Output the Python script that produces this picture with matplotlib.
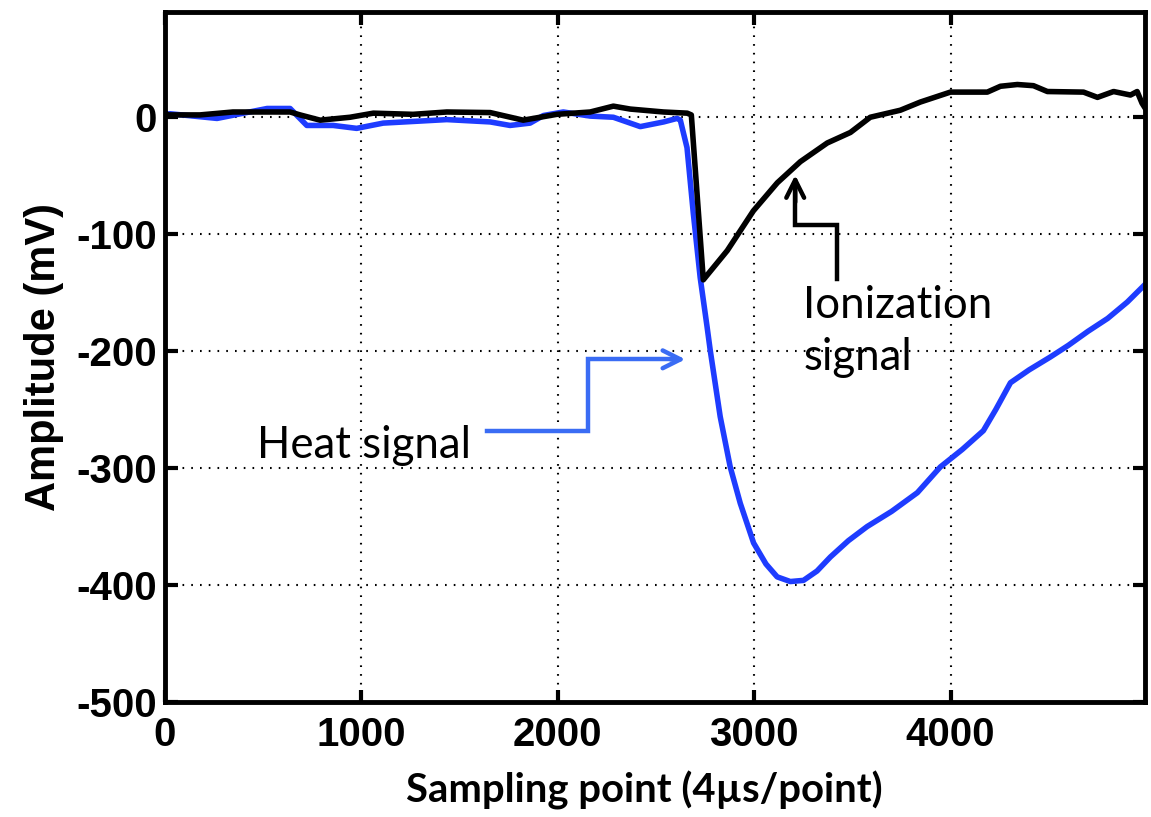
import numpy as np
import matplotlib.pyplot as plt

# 읽어낸 파형 값 (샘플 번호, mV)
ion_x = [0, 15, 178, 346, 637, 688, 790, 942, 1061, 1263, 1435, 1656, 1824,
         1995, 2165, 2283, 2369, 2539, 2659, 2680, 2741, 2863, 2996, 3118,
         3235, 3372, 3490, 3591, 3744, 3846, 3999, 4187, 4254, 4340, 4422,
         4493, 4677, 4748, 4830, 4916, 4950, 4975, 4990]
ion_y = [4, 2, 2, 4.5, 4.5, 2, -2.5, 0, 3.5, 2.5, 4.5, 4, -2.5,
         2.5, 4.5, 9.5, 7, 4.5, 3.5, 2, -139, -114, -80, -56,
         -38, -22, -13, 0, 6, 13, 21.5, 21.5, 26.5, 28, 27,
         22, 21.5, 17, 22, 19, 22, 12, 8]

heat_x = [0, 25, 265, 520, 637, 722, 856, 976, 1111, 1435, 1656, 1757, 1859,
          1927, 2028, 2165, 2283, 2420, 2539, 2607, 2624, 2658, 2690, 2725,
          2760, 2776, 2827, 2878, 2929, 2997, 3060, 3117, 3184, 3251, 3320,
          3388, 3480, 3575, 3700, 3831, 3948, 4060, 4167, 4230, 4305, 4400,
          4508, 4600, 4700, 4800, 4900, 4990]
heat_y = [2, 3, -1, 7.5, 7.5, -7, -7, -9.5, -5, -2, -4, -7, -5,
          1.5, 4.5, 1, 0, -8, -4, -1, -2.5, -26, -82, -137,
          -179, -199, -256, -299, -330, -364, -382, -393, -397, -396, -388,
          -376, -362, -350, -337, -321, -299, -284, -268, -250, -227, -216,
          -205, -195, -183, -172, -158, -143]

x_ticks = [0, 1000, 2000, 3000, 4000]
y_ticks = [0, -100, -200, -300, -400, -500]

W, H = 1151, 817
fig = plt.figure(figsize=(W / 100, H / 100), dpi=100)
ax = fig.add_axes([165 / W, 1 - 702 / H, 980 / W, 690 / H])

ax.plot(heat_x, heat_y, color='#1e3cff', lw=4, solid_joinstyle='round')
ax.plot(ion_x, ion_y, color='black', lw=4, solid_joinstyle='round')

ax.set_xlim(0, 4990)
ax.set_ylim(-500, 90)
ax.set_xticks(x_ticks)
ax.set_yticks(y_ticks)
ax.set_xticklabels([str(v) for v in x_ticks])
ax.set_yticklabels([str(v) for v in y_ticks])

for lab in ax.get_xticklabels() + ax.get_yticklabels():
    lab.set_family('Liberation Sans')
    lab.set_fontweight('bold')
    lab.set_fontsize(29)

ax.tick_params(direction='in', length=9, width=3, top=True, right=True,
               colors='black')
ax.tick_params(axis='x', pad=10)
ax.tick_params(axis='y', pad=6)
for sp in ax.spines.values():
    sp.set_linewidth(3.5)

ax.grid(True, color='black', lw=1.5, linestyle=(0, (0.8, 3.4)))
ax.set_axisbelow(True)

ax.set_ylabel("Amplitude (mV)", family='Liberation Sans', fontweight='bold',
              fontsize=30, labelpad=9)

# x축 제목 (슬라이드에서 덧붙인 글꼴)
fig.text(644 / W, 1 - 802 / H, "Sampling point (4\u00b5s/point)", family='Lato',
         fontweight='bold', fontsize=28.8, ha='center', va='baseline')

# --- 주석 화살표 ---
heat_col = '#3a6cf4'
ax.plot([1640, 2155, 2155, 2600], [-268, -268, -207, -207], color=heat_col,
        lw=3.2, solid_joinstyle='miter')
ax.annotate('', xy=(2664, -207), xytext=(2560, -207),
            arrowprops=dict(arrowstyle='->', color=heat_col, lw=3.2,
                            mutation_scale=32))
ax.text(469, -291, "Heat signal", family='Lato', fontsize=31.5, va='baseline')

ax.plot([3423, 3423, 3209, 3209], [-138, -92, -92, -60], color='black',
        lw=3.2, solid_joinstyle='miter')
ax.annotate('', xy=(3209, -47), xytext=(3209, -75),
            arrowprops=dict(arrowstyle='->', color='black', lw=3.2,
                            mutation_scale=32))
ax.text(3250, -172, "Ionization", family='Lato', fontsize=31.5, va='baseline')
ax.text(3250, -216, "signal", family='Lato', fontsize=31.5, va='baseline')

fig.savefig("out.png", dpi=100)
